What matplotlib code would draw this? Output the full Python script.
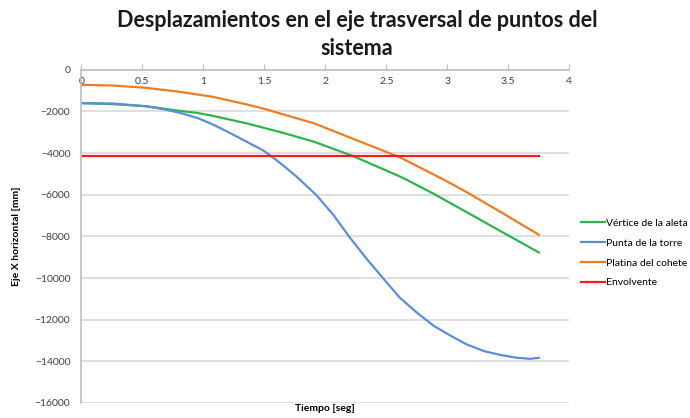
import matplotlib.pyplot as plt

plt.rcParams["font.family"] = ["Lato", "DejaVu Sans"]

# values
t_aleta = [0, 0.26, 0.53, 0.81, 0.95, 1.08, 1.36, 1.63, 1.90, 2.23, 2.61, 2.68,
           2.89, 3.16, 3.44, 3.75]
vertice_aleta = [-1600, -1650, -1750, -1975, -2070, -2215, -2580, -2990, -3440,
                 -4150, -5120, -5320, -5960, -6840, -7760, -8770]

t_torre = [0, 0.26, 0.53, 0.67, 0.81, 0.95, 1.08, 1.22, 1.36, 1.49, 1.56, 1.66,
           1.77, 1.93, 2.07, 2.20, 2.34, 2.48, 2.61, 2.75, 2.89, 3.03, 3.16,
           3.30, 3.44, 3.57, 3.68, 3.75]
punta_torre = [-1600, -1620, -1750, -1890, -2070, -2310, -2630, -3040, -3470,
               -3870, -4160, -4620, -5160, -6040, -7000, -8050, -9090, -10055,
               -10940, -11660, -12300, -12780, -13190, -13510, -13700, -13830,
               -13880, -13830]

t_cohete = [0, 0.26, 0.53, 0.81, 1.08, 1.36, 1.49, 1.63, 1.90, 2.26, 2.61, 2.985,
            3.16, 3.44, 3.75]
platina_cohete = [-720, -755, -865, -1060, -1300, -1670, -1860, -2100, -2555,
                  -3390, -4200, -5320, -5880, -6840, -7920]

t_envolvente = [0, 3.75]
envolvente = [-4150, -4150]

fig = plt.figure(figsize=(6.9, 4.18), dpi=100)
ax = fig.add_axes([0.118, 0.036, 0.707, 0.797])

ax.plot(t_aleta, vertice_aleta, color="#2fb34c", lw=1.6, label="Vértice de la aleta")
ax.plot(t_torre, punta_torre, color="#5b8ed8", lw=1.6, label="Punta de la torre")
ax.plot(t_cohete, platina_cohete, color="#ee7d22", lw=1.6, label="Platina del cohete")
ax.plot(t_envolvente, envolvente, color="#ff1a1a", lw=1.6, label="Envolvente")

ax.set_xlim(0, 4)
ax.set_ylim(-16000, 0)
ax.set_xticks([0, 0.5, 1, 1.5, 2, 2.5, 3, 3.5, 4])
ax.set_xticklabels(["0", "0.5", "1", "1.5", "2", "2.5", "3", "3.5", "4"])
ax.set_yticks(range(-16000, 1, 2000))

ax.grid(axis="y", color="#d9d9d9", lw=1.2)
ax.set_axisbelow(True)
for side in ["right", "bottom"]:
    ax.spines[side].set_visible(False)
ax.spines["top"].set_color("#bfbfbf")
ax.spines["left"].set_color("#bfbfbf")
ax.spines["top"].set_linewidth(1.2)
ax.spines["left"].set_linewidth(1.2)

ax.tick_params(axis="x", top=True, bottom=False, labeltop=True, labelbottom=False,
               direction="out", length=4, color="#bfbfbf", pad=-16,
               labelsize=7.5, labelcolor="#404040")
ax.tick_params(axis="y", length=0, pad=8, labelsize=7.5, labelcolor="#404040")

ax.set_title("Desplazamientos en el eje trasversal de puntos del\nsistema",
             fontsize=15.5, fontweight="bold", pad=11, color="#1a1a1a",
             linespacing=1.4, x=0.565)
ax.set_ylabel("Eje X horizontal [mm]", fontsize=7.5, fontweight="bold", labelpad=10)
ax.set_xlabel("Tiempo [seg]", fontsize=7.5, fontweight="bold", labelpad=1)

ax.legend(loc="center left", bbox_to_anchor=(1.005, 0.45), frameon=False,
          fontsize=7.5, handlelength=2.3, handletextpad=0.1, labelspacing=1.0)

fig.savefig("out.png", dpi=100)
